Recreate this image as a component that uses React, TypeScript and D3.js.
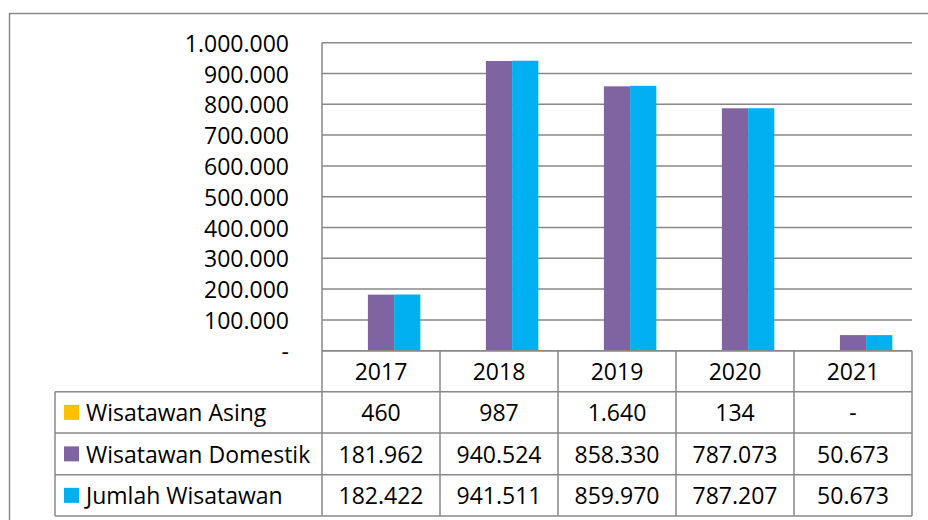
import React from "react";
import * as d3 from "d3";

const categories = ["2017", "2018", "2019", "2020", "2021"];
const seriesNames = ["Wisatawan Asing", "Wisatawan Domestik", "Jumlah Wisatawan"];
const asing = [460, 987, 1640, 134, 0];
const domestik = [181962, 940524, 858330, 787073, 50673];
const jumlah = [182422, 941511, 859970, 787207, 50673];
const yTicks = [0, 100000, 200000, 300000, 400000, 500000, 600000, 700000, 800000, 900000, 1000000];
const colors = ["#FFC000", "#8064A2", "#00B0F0"];

const W = 928;
const H = 520;
const plotLeft = 322;
const plotRight = 912;
const plotTop = 42.7;
const plotBottom = 350.7;
const rowH = [41, 41.3, 41.7, 41.3];
const legendLeft = 55;
const FONT = "'Open Sans', 'Noto Sans', sans-serif";
const FS = 23;
const LINE = "#888888";

const locale = d3.formatLocale({ decimal: ",", thousands: ".", grouping: [3], currency: ["", ""] });
const fmtNum = locale.format(",d");
const fmt = (v: number) => (v === 0 ? "-" : fmtNum(v));

export default function App() {
  const series = [asing, domestik, jumlah];
  const x0 = d3.scaleBand<string>().domain(categories).range([plotLeft, plotRight]).padding(0);
  const x1 = d3
    .scaleBand<string>()
    .domain(seriesNames)
    .range([0, x0.bandwidth()])
    .paddingInner(0)
    .paddingOuter(0.75);
  const y = d3.scaleLinear().domain([0, 1000000]).range([plotBottom, plotTop]);

  const rowTops: number[] = [];
  let acc = plotBottom;
  for (let i = 0; i < rowH.length; i++) {
    rowTops.push(acc);
    acc += rowH[i];
  }
  const tableBottom = acc;

  return (
    <svg
      width={W}
      height={H}
      style={{ position: "absolute", left: 0, top: 0, background: "#fff" }}
      fontFamily={FONT}
    >
      <rect x={0} y={0} width={W} height={H} fill="#fff" />
      {/* chart border */}
      <rect x={9.5} y={13.5} width={W + 20} height={H + 20} fill="none" stroke={LINE} strokeWidth={1.5} />

      {/* gridlines */}
      {yTicks.map((t) => (
        <line key={t} x1={plotLeft} x2={plotRight} y1={y(t)} y2={y(t)} stroke={LINE} strokeWidth={1.5} />
      ))}
      {/* y tick labels */}
      {yTicks.map((t) => (
        <text
          key={"l" + t}
          x={289}
          y={y(t)}
          textAnchor="end"
          dominantBaseline="central"
          fontSize={FS}
          fill="#000"
        >
          {fmt(t)}
        </text>
      ))}

      {/* bars */}
      {categories.map((c, ci) => (
        <g key={c}>
          {series.map((s, si) => (
            <rect
              key={si}
              x={(x0(c) as number) + (x1(seriesNames[si]) as number)}
              y={y(s[ci])}
              width={x1.bandwidth()}
              height={plotBottom - y(s[ci])}
              fill={colors[si]}
            />
          ))}
        </g>
      ))}

      {/* axis line */}
      <line x1={plotLeft} x2={plotLeft} y1={plotTop} y2={tableBottom} stroke={LINE} strokeWidth={1.5} />

      {/* table horizontal lines */}
      <line x1={plotLeft} x2={plotRight} y1={plotBottom} y2={plotBottom} stroke={LINE} strokeWidth={1.5} />
      {rowTops.slice(1).map((ry, i) => (
        <line key={"h" + i} x1={legendLeft} x2={plotRight} y1={ry} y2={ry} stroke={LINE} strokeWidth={1.5} />
      ))}
      <line x1={legendLeft} x2={plotRight} y1={tableBottom} y2={tableBottom} stroke={LINE} strokeWidth={1.5} />
      {/* table vertical lines */}
      <line x1={legendLeft} x2={legendLeft} y1={rowTops[1]} y2={tableBottom} stroke={LINE} strokeWidth={1.5} />
      {categories.map((c) => (
        <line
          key={"v" + c}
          x1={(x0(c) as number) + x0.bandwidth()}
          x2={(x0(c) as number) + x0.bandwidth()}
          y1={plotBottom}
          y2={tableBottom}
          stroke={LINE}
          strokeWidth={1.5}
        />
      ))}

      {/* header row */}
      {categories.map((c) => (
        <text
          key={"c" + c}
          x={(x0(c) as number) + x0.bandwidth() / 2}
          y={rowTops[0] + rowH[0] / 2}
          textAnchor="middle"
          dominantBaseline="central"
          fontSize={FS}
        >
          {c}
        </text>
      ))}

      {/* data rows */}
      {series.map((s, si) => {
        const cy = rowTops[si + 1] + rowH[si + 1] / 2;
        return (
          <g key={"r" + si}>
            <rect x={64} y={cy - 7.5} width={15} height={15} fill={colors[si]} />
            <text x={86} y={cy} dominantBaseline="central" fontSize={FS}>
              {seriesNames[si]}
            </text>
            {categories.map((c, ci) => (
              <text
                key={c}
                x={(x0(c) as number) + x0.bandwidth() / 2}
                y={cy}
                textAnchor="middle"
                dominantBaseline="central"
                fontSize={FS}
              >
                {fmt(s[ci])}
              </text>
            ))}
          </g>
        );
      })}
    </svg>
  );
}
